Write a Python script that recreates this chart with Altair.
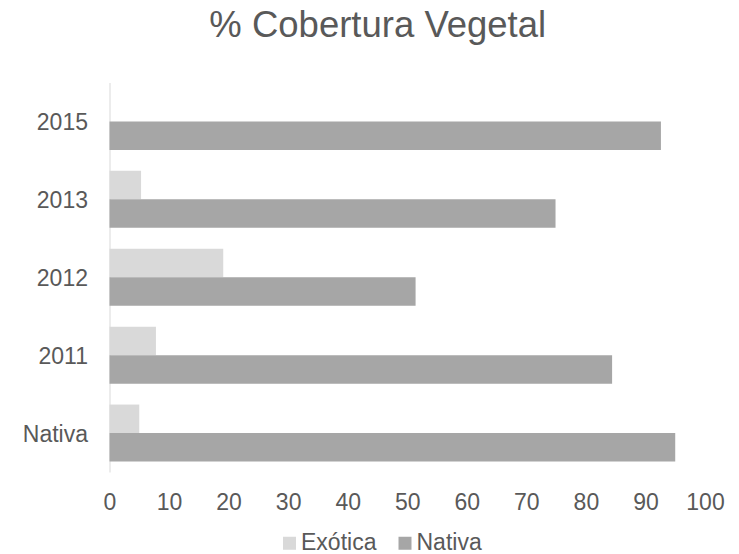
import altair as alt
import pandas as pd

categories = ["2015", "2013", "2012", "2011", "Nativa"]
series = ["Exótica", "Nativa"]
exotica = [0, 5.3, 19.1, 7.8, 5.0]
nativa = [92.6, 74.9, 51.4, 84.4, 95.0]
ticks = [0, 10, 20, 30, 40, 50, 60, 70, 80, 90, 100]
colors = ["#d9d9d9", "#a6a6a6"]

rows = []
for c, e, n in zip(categories, exotica, nativa):
    rows.append({"cat": c, "serie": series[0], "valor": e})
    rows.append({"cat": c, "serie": series[1], "valor": n})
df = pd.DataFrame(rows)

FONT = "Liberation Sans"
TXT = "#595959"

chart = alt.Chart(df).mark_bar().encode(
    x=alt.X("valor:Q",
            scale=alt.Scale(domain=[0, 100], nice=False),
            axis=alt.Axis(values=ticks, title=None, grid=False, domain=False,
                          ticks=False, labelFontSize=23, labelFont=FONT,
                          labelColor=TXT, labelPadding=37,
                          labelBaseline="alphabetic", labelFlush=False)),
    y=alt.Y("cat:N", sort=categories,
            scale=alt.Scale(paddingInner=0.268, paddingOuter=0.134),
            axis=alt.Axis(title=None, grid=False, ticks=False, domain=True,
                          domainColor="#d9d9d9", domainWidth=1,
                          labelFontSize=23, labelFont=FONT, labelColor=TXT,
                          labelPadding=22, labelOffset=1.5)),
    yOffset=alt.YOffset("serie:N", sort=series),
    color=alt.Color("serie:N", sort=series,
                    scale=alt.Scale(domain=series, range=colors),
                    legend=alt.Legend(title=None, orient="none",
                                      direction="horizontal",
                                      legendX=168.5, legendY=449,
                                      symbolType="square", symbolSize=169,
                                      symbolStrokeWidth=0, labelFontSize=23,
                                      labelFont=FONT, labelColor=TXT,
                                      labelOffset=0, columnPadding=16.5,
                                      padding=0)),
).properties(
    width=595.5,
    height=389.5,
    title=alt.TitleParams("% Cobertura Vegetal", fontSize=36.5, font=FONT,
                          color=TXT, fontWeight="normal", anchor="middle",
                          offset=38, dx=-29.5),
    autosize=alt.AutoSizeParams(type="none"),
    padding={"left": 101.5, "top": 74.5, "right": 26, "bottom": 82},
).configure_view(stroke=None)

chart.save("out.html", embed_options={"renderer": "svg", "actions": False})
